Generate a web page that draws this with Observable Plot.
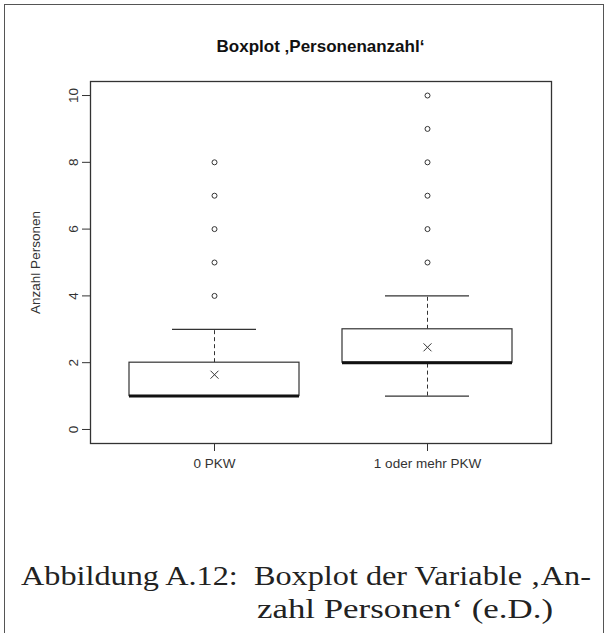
<!DOCTYPE html>
<html>
<head>
<meta charset="utf-8">
<script src="https://cdn.jsdelivr.net/npm/d3@7"></script>
<script src="https://cdn.jsdelivr.net/npm/@observablehq/plot@0.6"></script>
<style>
  html, body { margin: 0; padding: 0; background: #fff; }
  #wrap { position: relative; width: 615px; height: 633px; overflow: hidden; }
  #border { position: absolute; left: 4px; top: 4px; width: 600px; height: 700px;
            border: 1.5px solid #555; box-sizing: border-box; }
  #title { position: absolute; left: 90px; width: 461px; top: 37px; text-align: center;
           font: bold 17px "Liberation Sans", Arial, sans-serif; color: #111; }
  #chart { position: absolute; left: 0; top: 0; }
  .cap { position: absolute; font-family: "Liberation Serif", "DejaVu Serif", serif;
         font-size: 27px; color: #222; white-space: pre; line-height: 1; transform-origin: 0 0; }
</style>
</head>
<body>
<div id="wrap">
  <div id="border"></div>
  <div id="chart"></div>
  <div id="title">Boxplot ‚Personenanzahl‘</div>
  <div class="cap" id="cap1" style="left:21px; top:563px;">Abbildung A.12:  Boxplot der Variable ‚An-</div>
  <div class="cap" id="cap2" style="left:257px; top:596px;">zahl Personen‘ (e.D.)</div>
</div>
<script>
const categories = ["0 PKW", "1 oder mehr PKW"];
const lowerWhisker = [1, 1];
const q1 = [1, 2];
const median = [1, 2];
const q3 = [2, 3];
const upperWhisker = [3, 4];
const means = [1.64, 2.46];
const outliers = [[4, 5, 6, 7, 8], [5, 6, 7, 8, 9, 10]];
const yTicks = [0, 2, 4, 6, 8, 10];
const yLabel = "Anzahl Personen";

const stats = categories.map((c, i) => ({
  cat: c, lo: lowerWhisker[i], q1: q1[i], med: median[i], q3: q3[i], hi: upperWhisker[i], mean: means[i]
}));
const outlierRows = categories.flatMap((c, i) => outliers[i].map(v => ({cat: c, v})));

const ink = "#333";
const chart = Plot.plot({
  width: 615,
  height: 500,
  marginLeft: 90,
  marginRight: 64,
  marginTop: 81,
  marginBottom: 57,
  style: {fontFamily: "'Liberation Sans', Arial, sans-serif", fontSize: "13.5px", color: "#333", background: "transparent"},
  x: {type: "band", domain: categories, paddingInner: 0.2, paddingOuter: 0.182},
  y: {domain: [-0.42, 10.42]},
  marks: [
    Plot.ruleX(stats, {x: "cat", y1: "q3", y2: "hi", stroke: ink, strokeDasharray: "4,3"}),
    Plot.ruleX(stats, {x: "cat", y1: "lo", y2: "q1", stroke: ink, strokeDasharray: "4,3"}),
    Plot.tickY(stats, {x: "cat", y: "hi", stroke: ink, strokeWidth: 1.2, insetLeft: 43, insetRight: 43}),
    Plot.tickY(stats, {x: "cat", y: "lo", stroke: ink, strokeWidth: 1.2, insetLeft: 43, insetRight: 43}),
    Plot.barY(stats, {x: "cat", y1: "q1", y2: "q3", fill: "white", stroke: ink, strokeWidth: 1.2}),
    Plot.tickY(stats, {x: "cat", y: "med", stroke: "#111", strokeWidth: 3}),
    Plot.dot(stats, {x: "cat", y: "mean", symbol: "times", r: 3.7, stroke: ink, strokeWidth: 1}),
    Plot.dot(outlierRows, {x: "cat", y: "v", r: 2.5, stroke: ink, fill: "white", strokeWidth: 1}),
    Plot.frame({stroke: ink, strokeWidth: 1.3}),
    Plot.axisY({ticks: yTicks, tickSize: 8, tickPadding: 5, tickRotate: -90, label: null, stroke: ink, fontSize: 13.5}),
    Plot.axisX({tickSize: 8, tickPadding: 7, label: null, stroke: ink, fontSize: 13.5}),
    Plot.text([yLabel], {frameAnchor: "left", dx: -55, rotate: -90, textAnchor: "middle", text: d => d, fontSize: 13.5, fill: "#333"})
  ]
});
document.getElementById("chart").append(chart);

// widen the caption lines (Computer Modern is wider than Times) to the widths they have in the reference
function fit(id, target) {
  const el = document.getElementById(id);
  const w = el.getBoundingClientRect().width;
  el.style.transform = `scaleX(${target / w})`;
}
fit("cap1", 570);
fit("cap2", 296);
</script>
</body>
</html>
